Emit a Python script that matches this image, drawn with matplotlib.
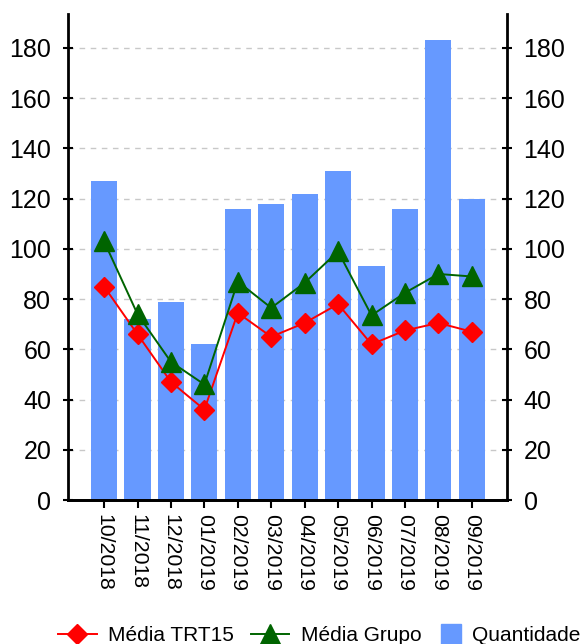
import matplotlib
matplotlib.use("Agg")
import matplotlib.pyplot as plt
from matplotlib.lines import Line2D

plt.rcParams['font.family'] = ['Liberation Sans', 'DejaVu Sans']

meses = ['10/2018', '11/2018', '12/2018', '01/2019', '02/2019', '03/2019',
         '04/2019', '05/2019', '06/2019', '07/2019', '08/2019', '09/2019']
quantidade = [127, 72, 79, 62, 116, 118, 122, 131, 93, 116, 183, 120]
media_trt15 = [85, 66, 47, 36, 74.5, 65, 70.5, 78, 62, 67.5, 70.5, 67]
media_grupo = [103, 74, 55, 46, 87, 76.5, 86.5, 99, 73.5, 82.5, 90, 89]

fig = plt.figure(figsize=(5.84, 6.44), dpi=100)
ax = fig.add_axes([0.1164, 0.2236, 0.7516, 0.7546])
x = list(range(len(meses)))

ax.bar(x, quantidade, width=0.78, color='#6699ff', zorder=2)
ax.plot(x, media_trt15, color='#ff0000', lw=1.4, marker='D', ms=10.5, zorder=3)
ax.plot(x, media_grupo, color='#006400', lw=1.4, marker='^', ms=14, zorder=4)

ylim = (0, 193.5)
yt = list(range(0, 181, 20))
ax.yaxis.grid(True, linestyle=(0, (4, 4)), color='#c8c8c8', lw=1.0, zorder=0)
ax.set_axisbelow(True)
ax.set_xticks(x)
ax.set_xticklabels(meses, rotation=-90, fontsize=15.3)
ax.tick_params(axis='x', direction='out', length=6, width=1.5, pad=4)

ax2 = ax.twinx()
for a in (ax, ax2):
    a.set_ylim(*ylim)
    a.set_yticks(yt)
    a.tick_params(axis='y', labelsize=18, direction='inout', length=7, width=1.5, pad=8.5)
    a.spines['top'].set_visible(False)
    for s in ('left', 'right', 'bottom'):
        a.spines[s].set_linewidth(2)
ax.spines['right'].set_visible(False)
ax2.spines['left'].set_visible(False)
ax.set_xlim(-1.08, 12.05)

h_lines = [
    Line2D([], [], color='#ff0000', lw=1.4, marker='D', ms=10.5),
    Line2D([], [], color='#006400', lw=1.4, marker='^', ms=14),
]
yleg = -0.002
leg1 = fig.legend(h_lines, ['Média TRT15', 'Média Grupo'], loc='lower left',
                  bbox_to_anchor=(58 / 584, yleg), ncol=2, frameon=False, fontsize=15,
                  handlelength=1.85, columnspacing=0.8, handletextpad=0.55,
                  borderpad=0, borderaxespad=0)
leg2 = fig.legend([Line2D([], [], ls='none', marker='s', ms=15, color='#6699ff')],
                  ['Quantidade'], loc='lower left',
                  bbox_to_anchor=(440 / 584, yleg), frameon=False, fontsize=15,
                  handlelength=1.1, handletextpad=0.45,
                  borderpad=0, borderaxespad=0)

fig.savefig('out.png', dpi=100)
